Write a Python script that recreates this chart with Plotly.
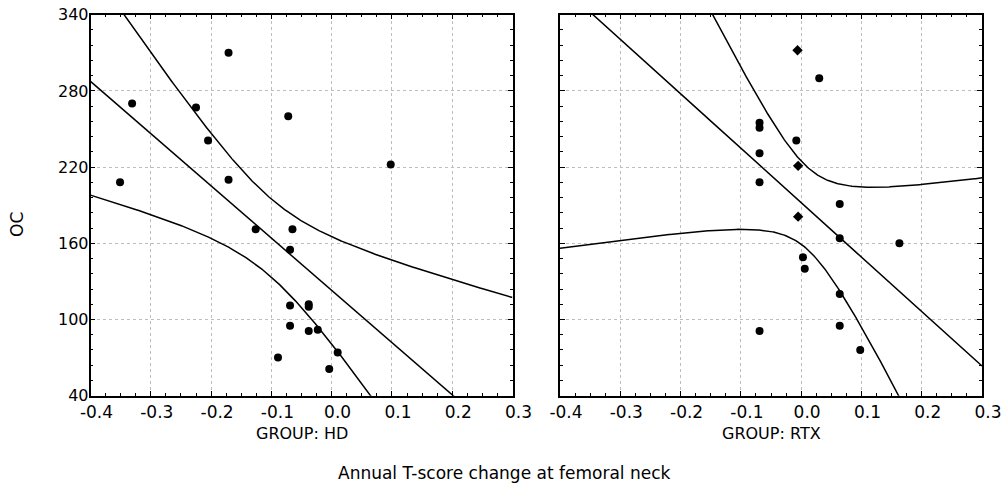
import numpy as np
import plotly.graph_objects as go

# ---------------- data ----------------
hd_x = [-0.351, -0.331, -0.225, -0.205, -0.171, -0.171, -0.126, -0.072, -0.065,
        -0.069, -0.069, -0.069, -0.089, -0.038, -0.038, -0.038, -0.023, 0.010,
        -0.004, 0.098]
hd_y = [208, 270, 267, 241, 310, 210, 171, 260, 171,
        155, 111, 95, 70, 112, 110, 91, 92, 74,
        61, 222]

rtx_x = [-0.069, -0.069, -0.069, -0.069, -0.069, -0.008, 0.030, 0.064, 0.064,
         0.163, 0.003, 0.006, 0.064, 0.064, 0.098]
rtx_y = [255, 251, 231, 208, 91, 241, 290, 191, 164,
         160, 149, 140, 120, 95, 76]
# points drawn as diamonds in the reference
rtx_dx = [-0.006, -0.005, -0.005]
rtx_dy = [312, 221, 181]

t_crit_hd = 2.101   # 95 %, df = 18
t_crit_rtx = 2.120  # 95 %, df = 16

x_ticks = [-0.4, -0.3, -0.2, -0.1, 0.0, 0.1, 0.2, 0.3]
x_ticktext = ["-0.4", "-0.3", "-0.2", "-0.1", "0.0", "0.1", "0.2", "0.3"]
y_ticks = [40, 100, 160, 220, 280, 340]
y_ticktext = ["40", "100", "160", "220", "280", "340"]
x_range = [-0.4, 0.3]
y_range = [40, 340]


def fit_band(x, y, t):
    x = np.asarray(x, float)
    y = np.asarray(y, float)
    n = len(x)
    xm, ym = x.mean(), y.mean()
    sxx = ((x - xm) ** 2).sum()
    b = ((x - xm) * (y - ym)).sum() / sxx
    a = ym - b * xm
    s = np.sqrt(((y - a - b * x) ** 2).sum() / (n - 2))
    xs = np.linspace(x_range[0], x_range[1], 400)
    yh = a + b * xs
    hw = t * s * np.sqrt(1.0 / n + (xs - xm) ** 2 / sxx)
    return xs, yh, yh - hw, yh + hw


FONT = "DejaVu Sans"
fig = go.Figure()

line_style = dict(color="black", width=1.5)
marker_c = dict(color="black", size=8, symbol="circle")
marker_d = dict(color="black", size=8, symbol="diamond")

# left panel
xs, yh, lo, hi = fit_band(hd_x, hd_y, t_crit_hd)
for yy in (yh, lo, hi):
    fig.add_trace(go.Scatter(x=xs, y=yy, mode="lines", line=line_style,
                             xaxis="x", yaxis="y", showlegend=False, hoverinfo="skip"))
fig.add_trace(go.Scatter(x=hd_x, y=hd_y, mode="markers", marker=marker_c,
                         xaxis="x", yaxis="y", showlegend=False))

# right panel
all_rx = rtx_x + rtx_dx
all_ry = rtx_y + rtx_dy
xs, yh, lo, hi = fit_band(all_rx, all_ry, t_crit_rtx)
for yy in (yh, lo, hi):
    fig.add_trace(go.Scatter(x=xs, y=yy, mode="lines", line=line_style,
                             xaxis="x2", yaxis="y2", showlegend=False, hoverinfo="skip"))
fig.add_trace(go.Scatter(x=rtx_x, y=rtx_y, mode="markers", marker=marker_c,
                         xaxis="x2", yaxis="y2", showlegend=False))
fig.add_trace(go.Scatter(x=rtx_dx, y=rtx_dy, mode="markers", marker=marker_d,
                         xaxis="x2", yaxis="y2", showlegend=False))

W, H = 1008, 487
yd = [(H - 395.7) / H, (H - 14.7) / H]

common_x = dict(range=x_range, tickmode="array", tickvals=x_ticks, ticktext=x_ticktext,
                ticks="inside", ticklen=5, tickwidth=1, tickcolor="black",
                showline=True, linecolor="black", linewidth=1.5, mirror="ticks",
                showgrid=True, gridcolor="#bdbdbd", gridwidth=1, griddash="3px,3px",
                zeroline=False, ticklabelshift=6, automargin=False,
                tickfont=dict(family=FONT, size=17, color="black"),
                minor=dict(tickmode="linear", tick0=-0.4, dtick=0.025, ticks="inside",
                           ticklen=3, tickwidth=1, tickcolor="black", showgrid=False))
common_y = dict(range=y_range, tickmode="array", tickvals=y_ticks, ticktext=y_ticktext,
                ticks="inside", ticklen=5, tickwidth=1, tickcolor="black",
                showline=True, linecolor="black", linewidth=1.5, mirror="ticks",
                showgrid=True, gridcolor="#bdbdbd", gridwidth=1, griddash="3px,3px",
                zeroline=False, ticklabelstandoff=-3, automargin=False,
                tickfont=dict(family=FONT, size=16, color="black"),
                minor=dict(tickmode="linear", tick0=40, dtick=12, ticks="inside",
                           ticklen=3, tickwidth=1, tickcolor="black", showgrid=False))

fig.update_layout(
    width=W, height=H,
    margin=dict(l=0, r=0, t=0, b=0, pad=0, autoexpand=False),
    paper_bgcolor="white", plot_bgcolor="white",
    xaxis=dict(domain=[90.5 / W, 512.5 / W], anchor="y", **common_x),
    yaxis=dict(domain=yd, anchor="x", **common_y),
    xaxis2=dict(domain=[560 / W, 982 / W], anchor="y2", **common_x),
    yaxis2=dict(domain=yd, anchor="x2", showticklabels=False, **common_y),
    font=dict(family=FONT, color="black"),
    annotations=[
        dict(text="GROUP: HD", x=301.5 / W, y=(H - 433) / H, xref="paper", yref="paper",
             showarrow=False, xanchor="center", yanchor="middle",
             font=dict(family=FONT, size=16, color="black")),
        dict(text="GROUP: RTX", x=771 / W, y=(H - 433) / H, xref="paper", yref="paper",
             showarrow=False, xanchor="center", yanchor="middle",
             font=dict(family=FONT, size=16, color="black")),
        dict(text="Annual T-score change at femoral neck", x=504 / W, y=(H - 473) / H,
             xref="paper", yref="paper", showarrow=False, xanchor="center",
             yanchor="middle", font=dict(family=FONT, size=17, color="black")),
        dict(text="OC", x=17 / W, y=(H - 225) / H, xref="paper", yref="paper",
             showarrow=False, xanchor="center", yanchor="middle", textangle=-90,
             font=dict(family=FONT, size=17, color="black")),
    ],
)

fig.write_html(
    "out.html",
    config={"displayModeBar": False},
    post_script="document.body.style.margin='0';document.body.style.padding='0';"
                "document.body.style.overflow='hidden';",
)
